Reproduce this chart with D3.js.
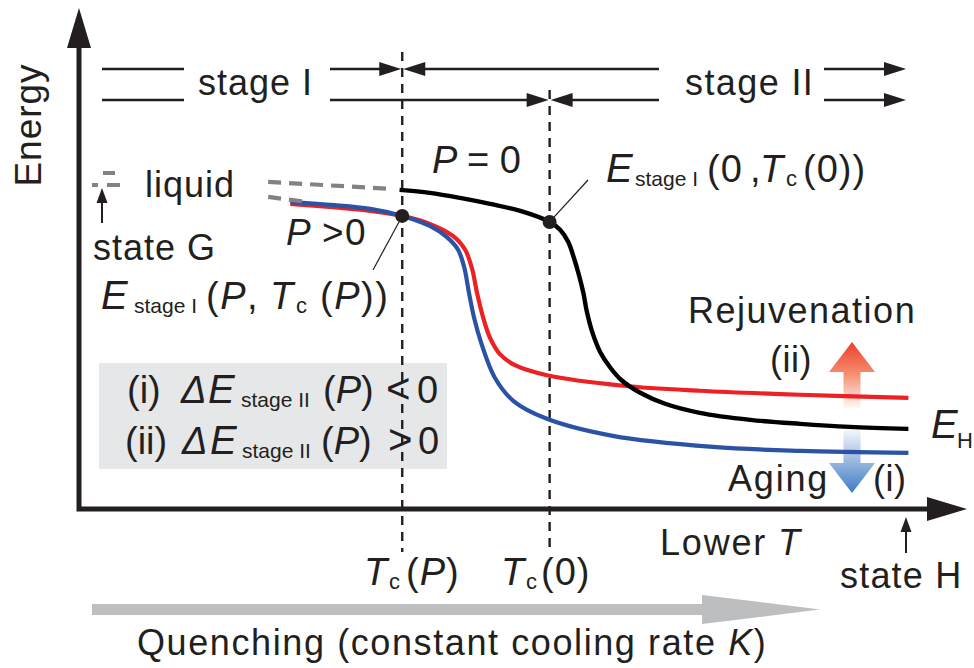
<!DOCTYPE html>
<meta charset="utf-8">
<html>
<head><title>energy vs lower T schematic</title>
    <script src="https://cdn.jsdelivr.net/npm/d3@7"></script>
    <style>
        body { margin: 0; background: #fff; }
        text { font-family: "Liberation Sans", Arial, sans-serif; fill: #231f20; }
        .it { font-style: italic; }
    </style>
</head>
<body>
<div id="chart"></div>
<script>

    var SVGwidth = 974, SVGheight = 668;

    // notional axes: lower T (0..100, left to right) and energy (0..100)
    var tcP = 36.4, tc0 = 53.0;          // T_c(P), T_c(0)

    // P = 0 curve (black)
    var curveP0 = [[36.1,63.7],[39.5,63.1],[42.9,62.1],[46.3,60.9],[49.7,59.5],[53.0,57.3],
        [54.2,55.7],[55.1,53.3],[55.7,50.3],[56.3,46.7],[56.8,43.1],[57.2,39.3],[57.8,35.3],
        [58.7,31.3],[59.8,28.3],[61.1,25.7],[63.2,23.2],[66.0,21.0],[69.9,19.2],[75.6,17.8],
        [81.2,17.0],[86.8,16.4],[93.4,16.0]];
    // P > 0, rejuvenation branch (red)
    var curveRed = [[23.8,60.9],[28.3,60.3],[32.8,59.5],[36.4,58.5],[39.5,56.9],[42.1,54.5],
        [43.5,51.7],[44.3,47.7],[44.8,43.3],[45.5,38.3],[46.3,34.1],[47.4,30.9],[49.1,28.7],
        [52.7,26.7],[61.3,24.6],[69.9,23.6],[81.2,22.8],[93.4,22.2]];
    // P > 0, aging branch (blue)
    var curveBlue = [[23.8,61.3],[28.3,60.7],[32.8,59.9],[36.4,58.5],[39.5,56.5],[41.4,54.3],
        [42.7,51.7],[43.4,48.1],[43.9,43.3],[44.5,38.1],[45.3,33.1],[46.8,26.3],[48.9,21.6],
        [52.7,18.0],[60.1,14.6],[71.4,12.4],[81.2,11.6],[93.4,11.2]];
    // liquid extensions (grey dashed)
    var liquidUpper = [[21.3,65.3],[35.0,63.9]];
    var liquidLower = [[21.3,62.3],[25.2,61.4]];
    // E_stage I points
    var stagePoints = [[36.4,58.5],[53.0,57.3]];

    var stageLabels = ["stage I", "stage II"];

    var ink = "#231f20";

    var svg = d3.select("#chart").append("svg")
            .attr("width", SVGwidth)
            .attr("height", SVGheight);

    var x = d3.scaleLinear().domain([0, 100]).range([79, 967]);
    var y = d3.scaleLinear().domain([0, 100]).range([509, 8]);

    var defs = svg.append("defs");
    var gRed = defs.append("linearGradient").attr("id", "gradRed")
            .attr("x1", 0).attr("y1", 0).attr("x2", 0).attr("y2", 1);
    gRed.append("stop").attr("offset", "0").attr("stop-color", "#ee3f2c");
    gRed.append("stop").attr("offset", "0.45").attr("stop-color", "#f58a6c");
    gRed.append("stop").attr("offset", "1").attr("stop-color", "#ffffff");
    var gBlue = defs.append("linearGradient").attr("id", "gradBlue")
            .attr("x1", 0).attr("y1", 0).attr("x2", 0).attr("y2", 1);
    gBlue.append("stop").attr("offset", "0").attr("stop-color", "#ffffff");
    gBlue.append("stop").attr("offset", "0.45").attr("stop-color", "#a9c1e3");
    gBlue.append("stop").attr("offset", "1").attr("stop-color", "#3b7cc6");

    function head(tx, ty, dir, len, half, color) {
        // dir: "r", "l", "u"
        var pts;
        if (dir == "r") pts = [[tx,ty],[tx-len,ty-half],[tx-len,ty+half]];
        else if (dir == "l") pts = [[tx,ty],[tx+len,ty-half],[tx+len,ty+half]];
        else pts = [[tx,ty],[tx-half,ty+len],[tx+half,ty+len]];
        svg.append("polygon").attr("points", pts.join(" ")).attr("fill", color || ink);
    }
    function hline(x1, x2, yy, w) {
        svg.append("line").attr("x1", x1).attr("x2", x2).attr("y1", yy).attr("y2", yy)
                .attr("stroke", ink).attr("stroke-width", w || 2.6);
    }

    // grey info box
    svg.append("rect").attr("x", 99).attr("y", 363).attr("width", 348).attr("height", 106)
            .attr("fill", "#e6e7e8");

    // dashed T_c lines
    svg.append("line").attr("x1", x(tcP)).attr("x2", x(tcP)).attr("y1", 52).attr("y2", 552)
            .attr("stroke", ink).attr("stroke-width", 2.4).attr("stroke-dasharray", "9,7");
    svg.append("line").attr("x1", x(tc0)).attr("x2", x(tc0)).attr("y1", 90).attr("y2", 552)
            .attr("stroke", ink).attr("stroke-width", 2.4).attr("stroke-dasharray", "9,7");

    // stage arrows
    var rowY = [69, 100];
    var rowTc = [x(tcP), x(tc0)];
    rowY.forEach(function(yy, i) {
        hline(102, 184, yy);
        hline(330, rowTc[i] - 20, yy);
        head(rowTc[i] - 1, yy, "r", 22, 7);
        hline(rowTc[i] + 20, 659, yy);
        head(rowTc[i] + 1, yy, "l", 22, 7);
        hline(824, 886, yy);
        head(906, yy, "r", 22, 7);
    });
    svg.append("text").attr("x", 198).attr("y", 95).attr("font-size", 36)
            .attr("letter-spacing", 1).text(stageLabels[0]);
    svg.append("text").attr("x", 685).attr("y", 95).attr("font-size", 36)
            .attr("letter-spacing", 1.4).text(stageLabels[1]);

    // rejuvenation / aging arrows
    var ax = 852;
    svg.append("polygon").attr("fill", "url(#gradRed)")
            .attr("points", [[ax,342],[ax+23,372],[ax+8.5,372],[ax+8.5,410],[ax-8.5,410],[ax-8.5,372],[ax-23,372]].join(" "));
    svg.append("polygon").attr("fill", "url(#gradBlue)")
            .attr("points", [[ax-8.5,426],[ax+8.5,426],[ax+8.5,463],[ax+23,463],[ax,493],[ax-23,463],[ax-8.5,463]].join(" "));

    // curves
    var line = d3.line().x(function(d) { return x(d[0]); }).y(function(d) { return y(d[1]); })
            .curve(d3.curveCatmullRom.alpha(0.5));
    svg.append("path").attr("d", line(curveRed)).attr("fill", "none")
            .attr("stroke", "#ed2024").attr("stroke-width", 4.2);
    svg.append("path").attr("d", line(curveBlue)).attr("fill", "none")
            .attr("stroke", "#2b53a5").attr("stroke-width", 4.2);
    svg.append("path").attr("d", line(curveP0)).attr("fill", "none")
            .attr("stroke", "#000").attr("stroke-width", 4.4);
    [liquidUpper, liquidLower].forEach(function(d) {
        svg.append("path").attr("d", line(d)).attr("fill", "none")
                .attr("stroke", "#808285").attr("stroke-width", 4.2).attr("stroke-dasharray", "13,8");
    });

    // E_stage I points and leaders
    svg.append("line").attr("x1", x(stagePoints[0][0])).attr("y1", y(stagePoints[0][1]))
            .attr("x2", 373).attr("y2", 270).attr("stroke", ink).attr("stroke-width", 1.2);
    svg.append("line").attr("x1", x(stagePoints[1][0])).attr("y1", y(stagePoints[1][1]))
            .attr("x2", 588).attr("y2", 180).attr("stroke", ink).attr("stroke-width", 1.2);
    svg.selectAll("circle.pt").data(stagePoints).enter().append("circle")
            .attr("class", "pt")
            .attr("cx", function(d) { return x(d[0]); })
            .attr("cy", function(d) { return y(d[1]); })
            .attr("r", 7).attr("fill", ink);

    // axes
    svg.append("path").attr("d", "M79,46 L79,509 L930,509").attr("fill", "none")
            .attr("stroke", ink).attr("stroke-width", 5);
    head(79, 8, "u", 40, 12);
    head(967, 509, "r", 40, 12);

    // small liquid legend + state G arrow
    svg.append("line").attr("x1", 103).attr("x2", 115).attr("y1", 173).attr("y2", 173)
            .attr("stroke", "#808285").attr("stroke-width", 4);
    svg.append("line").attr("x1", 92).attr("x2", 120).attr("y1", 185).attr("y2", 185)
            .attr("stroke", "#808285").attr("stroke-width", 4).attr("stroke-dasharray", "6,9,13");
    svg.append("line").attr("x1", 102).attr("x2", 102).attr("y1", 223).attr("y2", 200)
            .attr("stroke", ink).attr("stroke-width", 2);
    head(102, 188, "u", 15, 5.5);
    // state H arrow
    svg.append("line").attr("x1", 906).attr("x2", 906).attr("y1", 553).attr("y2", 530)
            .attr("stroke", ink).attr("stroke-width", 2);
    head(906, 517, "u", 15, 5.5);

    // big grey quench arrow
    svg.append("rect").attr("x", 92).attr("y", 604).attr("width", 612).attr("height", 11).attr("fill", "#bcbec0");
    svg.append("polygon").attr("points", [[702,595],[820,609.5],[702,624]].join(" ")).attr("fill", "#bcbec0");

    // plain label
    function label(xx, yy, str, size, ls) {
        return svg.append("text").attr("x", xx).attr("y", yy).attr("font-size", size || 36)
                .attr("letter-spacing", ls || 0).text(str);
    }
    // mixed label: parts = [text, italic?, size, x, y] (x / y optional); small parts get no extra spacing
    function rich(yy, parts, ls) {
        var t = svg.append("text").attr("y", yy).attr("font-size", 36);
        parts.forEach(function(p) {
            var s = t.append("tspan").text(p[0]);
            if (p[1]) s.attr("class", "it");
            if (p[2]) s.attr("font-size", p[2]);
            if (p[3] != null) s.attr("x", p[3]);
            s.attr("y", p[4] != null ? p[4] : yy);
            s.attr("letter-spacing", (p[2] && p[2] < 30) ? 0 : (ls || 0));
        });
        return t;
    }

    svg.append("text").attr("transform", "translate(41,125) rotate(-90)")
            .attr("text-anchor", "middle").attr("font-size", 37).attr("letter-spacing", 1).text("Energy");
    label(145, 197, "liquid", 36, 1);
    label(93, 260, "state G", 36, 1);
    rich(173, [["P", 1, 38, 432], ["= 0", 0, 38, 467]]);
    rich(245, [["P", 1, 37, 286], [">", 0, 37, 322], ["0", 0, 37, 345]]);
    rich(309, [["E", 1, 40, 101], ["stage I", 0, 21, 134, 313], ["(", 0, 38, 206], ["P", 1, 38],
        [",", 0, 38], ["T", 1, 38, 270], ["c", 0, 22, 296, 313], ["(", 0, 38, 320], ["P", 1, 38], ["))", 0, 38]], 1.5);
    rich(182, [["E", 1, 40, 606], ["stage I", 0, 21, 635, 186], ["(0", 0, 38, 707], [",", 0, 38, 750],
        ["T", 1, 38, 760], ["c", 0, 22, 786, 186], ["(0))", 0, 38, 803]], 1);
    label(688, 323, "Rejuvenation", 36, 1.5);
    label(770, 372, "(ii)", 36, 0.5);
    rich(438, [["E", 1, 40, 931], ["H", 0, 22, 957, 448]]);
    label(728, 491, "Aging", 36, 1.8);
    label(873, 491, "(i)", 36, 0.5);
    rich(555, [["Lower", 0, 36, 660], ["T", 1, 36, 778]], 1.8);
    label(840, 588, "state H", 36, 1.2);
    rich(585, [["T", 1, 38, 364], ["c", 0, 22, 389, 589], ["(", 0, 38, 406], ["P", 1, 38], [")", 0, 38]], 1);
    rich(585, [["T", 1, 38, 501], ["c", 0, 22, 526, 589], ["(0)", 0, 38, 541]], 1);
    rich(655, [["Quenching (constant cooling rate ", 0, 36, 137], ["K", 1, 36], [")", 0, 36]], 1.6);

    rich(403, [["(i)", 0, 38, 127], ["\u0394", 1, 38, 181], ["E", 1, 40, 208], ["stage II", 0, 21, 241, 407],
        ["(", 0, 38, 323], ["P", 1, 38], [")", 0, 38], ["<", 0, 42, 386], ["0", 0, 38, 417]]);
    rich(454, [["(ii)", 0, 38, 125], ["\u0394", 1, 38, 182], ["E", 1, 40, 210], ["stage II", 0, 21, 242, 458],
        ["(", 0, 38, 321], ["P", 1, 38], [")", 0, 38], [">", 0, 42, 388], ["0", 0, 38, 418]]);

</script>
</body>
</html>
